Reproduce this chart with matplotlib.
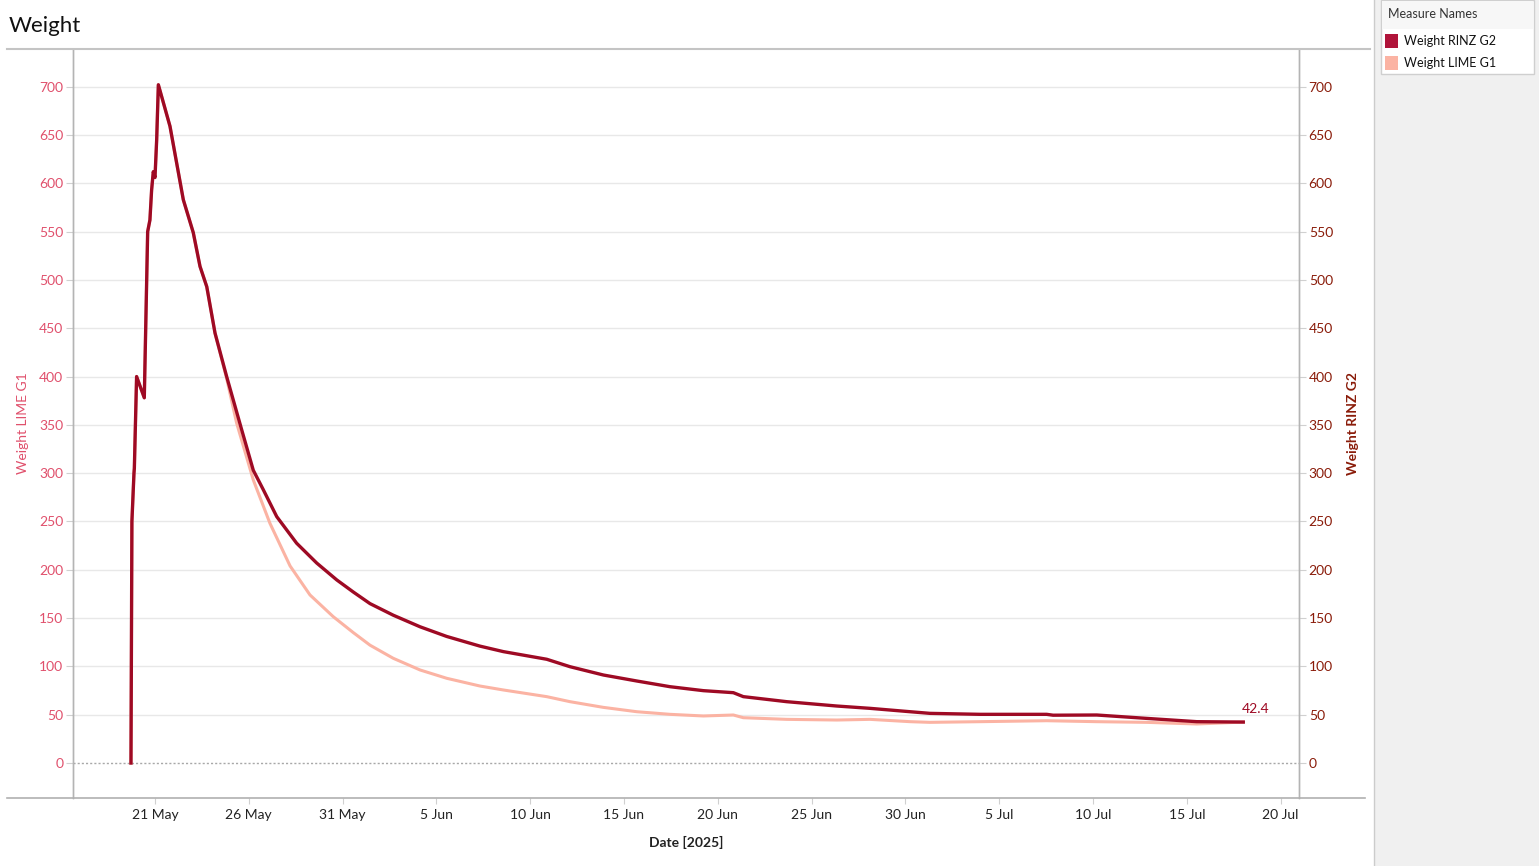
import matplotlib
matplotlib.use("Agg")
import matplotlib.pyplot as plt
from matplotlib.lines import Line2D
from matplotlib.patches import Rectangle
import pandas as pd

plt.rcParams['font.family'] = ['Lato', 'DejaVu Sans']

# ---- data (days since 2025-05-21) ----
base_date = "2025-05-21"
rinz_days = [-1.28, -1.23, -1.12, -1.10, -0.98, -0.57, -0.39, -0.27, -0.18, -0.09, 0.00, 0.09, 0.18,
             0.80, 1.51, 2.04, 2.40, 2.76, 3.20, 3.82, 4.62, 5.24, 5.77, 6.49, 7.55, 8.62, 9.69,
             10.57, 11.46, 12.70, 14.13, 15.55, 17.32, 18.57, 20.88, 22.12, 23.90, 25.68, 27.45,
             29.23, 30.83, 31.36, 33.67, 36.34, 38.11, 40.25, 41.31, 43.98, 47.53, 47.87, 50.20,
             52.86, 55.53, 58.01]
rinz_vals = [0, 250, 300, 305, 400, 378, 550, 562, 593, 612, 606, 645, 702,
             659, 583, 549, 514, 493, 445, 400, 345, 303, 283, 255, 227.5, 207, 189.5,
             177, 165, 153, 141, 131, 121, 115.3, 107.4, 99.7, 91.1, 84.9, 79,
             74.9, 72.8, 68.7, 63.5, 59, 56.6, 53.1, 51.4, 50.4, 50.4, 49.5, 49.7,
             46.2, 42.8, 42.4]

lime_days = [-1.28, -1.23, -1.12, -1.10, -0.98, -0.57, -0.39, -0.27, -0.18, -0.09, 0.00, 0.09, 0.18,
             0.80, 1.51, 2.04, 2.40, 2.76, 3.20, 3.82, 4.35, 5.24, 6.13, 7.20, 8.26, 9.50,
             10.57, 11.46, 12.70, 14.13, 15.55, 17.32, 18.57, 20.88, 22.12, 23.90, 25.68, 27.45,
             29.23, 30.83, 31.36, 33.67, 36.34, 38.11, 40.25, 41.31, 43.98, 47.53, 50.20,
             52.86, 55.53, 58.01]
lime_vals = [0, 250, 300, 305, 400, 378, 550, 562, 593, 612, 606, 645, 702,
             659, 583, 549, 514, 493, 445, 398, 352, 293, 248, 204, 174, 151.5,
             135, 122, 108.4, 96.3, 87.7, 79.7, 75.6, 68.7, 63.5, 57.6, 53.1, 50.4,
             48.7, 49.7, 46.9, 45.2, 44.5, 45.2, 42.8, 42.1, 42.8, 43.8, 42.8,
             42.1, 40.4, 42.4]

y_ticks = [0, 50, 100, 150, 200, 250, 300, 350, 400, 450, 500, 550, 600, 650, 700]
last_label = "42.4"

series_names = ["Weight RINZ G2", "Weight LIME G1"]
c_rinz = "#9e0a24"
c_lime = "#fbb3a3"
c_left_lbl = "#e0506c"
c_right_lbl = "#8a1c0a"

t0 = pd.Timestamp(base_date)
rinz_dates = t0 + pd.to_timedelta(rinz_days, unit="D")
lime_dates = t0 + pd.to_timedelta(lime_days, unit="D")

W, H = 1539, 866
fig = plt.figure(figsize=(W / 100, H / 100), dpi=100)
fig.patch.set_facecolor("white")

L, R, T, B = 73, 1299, 49, 798
ax = fig.add_axes([L / W, 1 - B / H, (R - L) / W, (B - T) / H])
ax2 = ax.twinx()

ylo, yhi = -36.2, 739
xlo = t0 + pd.Timedelta(days=-4.37)
xhi = t0 + pd.Timedelta(days=60.98)

for a in (ax, ax2):
    a.set_ylim(ylo, yhi)
    a.set_xlim(xlo, xhi)
    a.set_yticks(y_ticks)
    for s in ("top", "bottom"):
        a.spines[s].set_visible(False)
    a.spines["left"].set_color("#b4b4b4")
    a.spines["right"].set_color("#b4b4b4")
    a.spines["left"].set_linewidth(1.0)
    a.spines["right"].set_linewidth(1.0)

ax.set_facecolor("white")
for v in y_ticks[1:]:
    ax.axhline(v, color="#e8e8e8", lw=1.0, zorder=0)
ax.axhline(0, color="#a8a8a8", lw=1.0, ls=(0, (1.5, 1.5)), zorder=1)

ax.tick_params(axis="y", colors="#d0d0d0", labelcolor=c_left_lbl, labelsize=10, length=5, width=0.8, pad=2)
ax2.tick_params(axis="y", colors="#d0d0d0", labelcolor=c_right_lbl, labelsize=10, length=5, width=0.8, pad=2)

xt = pd.date_range("2025-05-21", "2025-07-20", freq="5D")
ax.set_xticks(xt)
ax.set_xticklabels([f"{d.day} {d.strftime('%b')}" for d in xt])
ax.tick_params(axis="x", colors="#d0d0d0", labelcolor="#222222", labelsize=10, length=4, width=0.8, pad=4)
ax2.tick_params(axis="x", length=0)

ax.set_ylabel("Weight LIME G1", color=c_left_lbl, fontsize=10, labelpad=7)
ax2.set_ylabel("Weight RINZ G2", color=c_right_lbl, fontsize=10, fontweight="bold", labelpad=10)
ax.set_xlabel("Date [2025]", color="#222222", fontsize=10, fontweight="bold", labelpad=11)

ax.plot(lime_dates, lime_vals, color=c_lime, lw=2.2, solid_joinstyle="round", zorder=3)
ax2.plot(rinz_dates, rinz_vals, color=c_rinz, lw=2.4, solid_joinstyle="round", zorder=4)
ax2.annotate(last_label, xy=(rinz_dates[-1], rinz_vals[-1]), xytext=(-1, 5), textcoords="offset points",
             ha="left", va="bottom", color=c_rinz, fontsize=10)

# frame lines outside axes
fig.add_artist(Line2D([7 / W, 1370 / W], [1 - T / H, 1 - T / H], color="#c4c4c4", lw=1.5))
fig.add_artist(Line2D([7 / W, 1365 / W], [1 - B / H, 1 - B / H], color="#b0b0b0", lw=1.2))

# title
fig.text(9 / W, 1 - 26 / H, "Weight", fontsize=16, color="#111111", va="center", ha="left")

# right legend panel
fig.add_artist(Rectangle((1374 / W, 0), (W - 1374) / W, 1, transform=fig.transFigure,
                         facecolor="#f0f0f0", edgecolor="none"))
fig.add_artist(Line2D([1374 / W, 1374 / W], [0, 1], color="#cccccc", lw=1.0))
fig.add_artist(Rectangle((1381 / W, 1 - 74 / H), (1534 - 1381) / W, 74 / H, transform=fig.transFigure,
                         facecolor="white", edgecolor="#cfcfcf", lw=1.0))
fig.add_artist(Rectangle((1382 / W, 1 - 29 / H), (1533 - 1382) / W, 28 / H, transform=fig.transFigure,
                         facecolor="#f7f7f7", edgecolor="none"))
fig.text(1388 / W, 1 - 14 / H, "Measure Names", fontsize=9, color="#333333", va="center", ha="left")
for i, (name, col) in enumerate(zip(series_names, [c_rinz, c_lime])):
    yc = 41 + 22 * i
    fig.add_artist(Rectangle((1385 / W, 1 - (yc + 7) / H), 13 / W, 14 / H, transform=fig.transFigure,
                             facecolor=col if i else "#b0143a", edgecolor="none"))
    fig.text(1404 / W, 1 - yc / H, name, fontsize=9, color="#111111", va="center", ha="left")

fig.savefig("out.png", dpi=100)
